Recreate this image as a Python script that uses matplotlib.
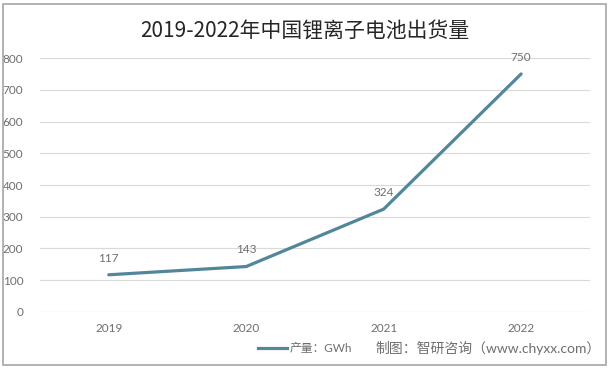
import matplotlib
matplotlib.use("Agg")
import matplotlib.pyplot as plt
from matplotlib.patches import Rectangle

plt.rcParams['font.family'] = ['Lato', 'Noto Sans CJK SC', 'DejaVu Sans']

years = ['2019', '2020', '2021', '2022']
output_gwh = [117, 143, 324, 750]
yticks = [0, 100, 200, 300, 400, 500, 600, 700, 800]

line_color = '#52879a'
text_gray = '#6e6e6e'

fig = plt.figure(figsize=(6.1, 3.7), dpi=100)
ax = fig.add_axes([0.0656, 0.157, 0.9014, 0.686])

x = range(len(years))
ax.plot(x, output_gwh, color=line_color, linewidth=2.3, solid_capstyle='round')
for i, v in zip(x, output_gwh):
    ax.annotate(str(v), (i, v), xytext=(0, 8), textcoords='offset points',
                ha='center', va='bottom', fontsize=8.5, color=text_gray)

ax.set_xlim(-0.5, len(years) - 0.5)
ax.set_ylim(0, 800)
ax.set_xticks(list(x))
ax.set_xticklabels(years)
ax.set_yticks(yticks)
ax.grid(axis='y', color='#d9d9d9', linewidth=0.8)
ax.set_axisbelow(True)
for s in ax.spines.values():
    s.set_visible(False)
ax.tick_params(length=0, colors=text_gray, labelsize=8.5)
ax.tick_params(axis='x', pad=8)
ax.tick_params(axis='y', pad=12)

fig.text(0.5, 0.918, '2019-2022年中国锂离子电池出货量', ha='center', va='center',
         fontsize=15, color='#262626', family=['Noto Sans CJK SC', 'DejaVu Sans'])

# legend + source
fig.add_artist(plt.Line2D([258 / 610, 287 / 610], [1 - 348 / 370] * 2,
                          color=line_color, linewidth=2.3))
fig.text(290 / 610, 1 - 348 / 370, '产量：GWh', ha='left', va='center',
         fontsize=8.5, color=text_gray)
fig.text(0.985, 1 - 348 / 370, '制图：智研咨询（www.chyxx.com）', ha='right', va='center',
         fontsize=10, color=text_gray)

fig.add_artist(Rectangle((3 / 610, 5 / 370), 603 / 610, 361 / 370, transform=fig.transFigure,
                         fill=False, edgecolor='#a6a6a6', linewidth=1.2))

fig.savefig('out.png', dpi=100)
